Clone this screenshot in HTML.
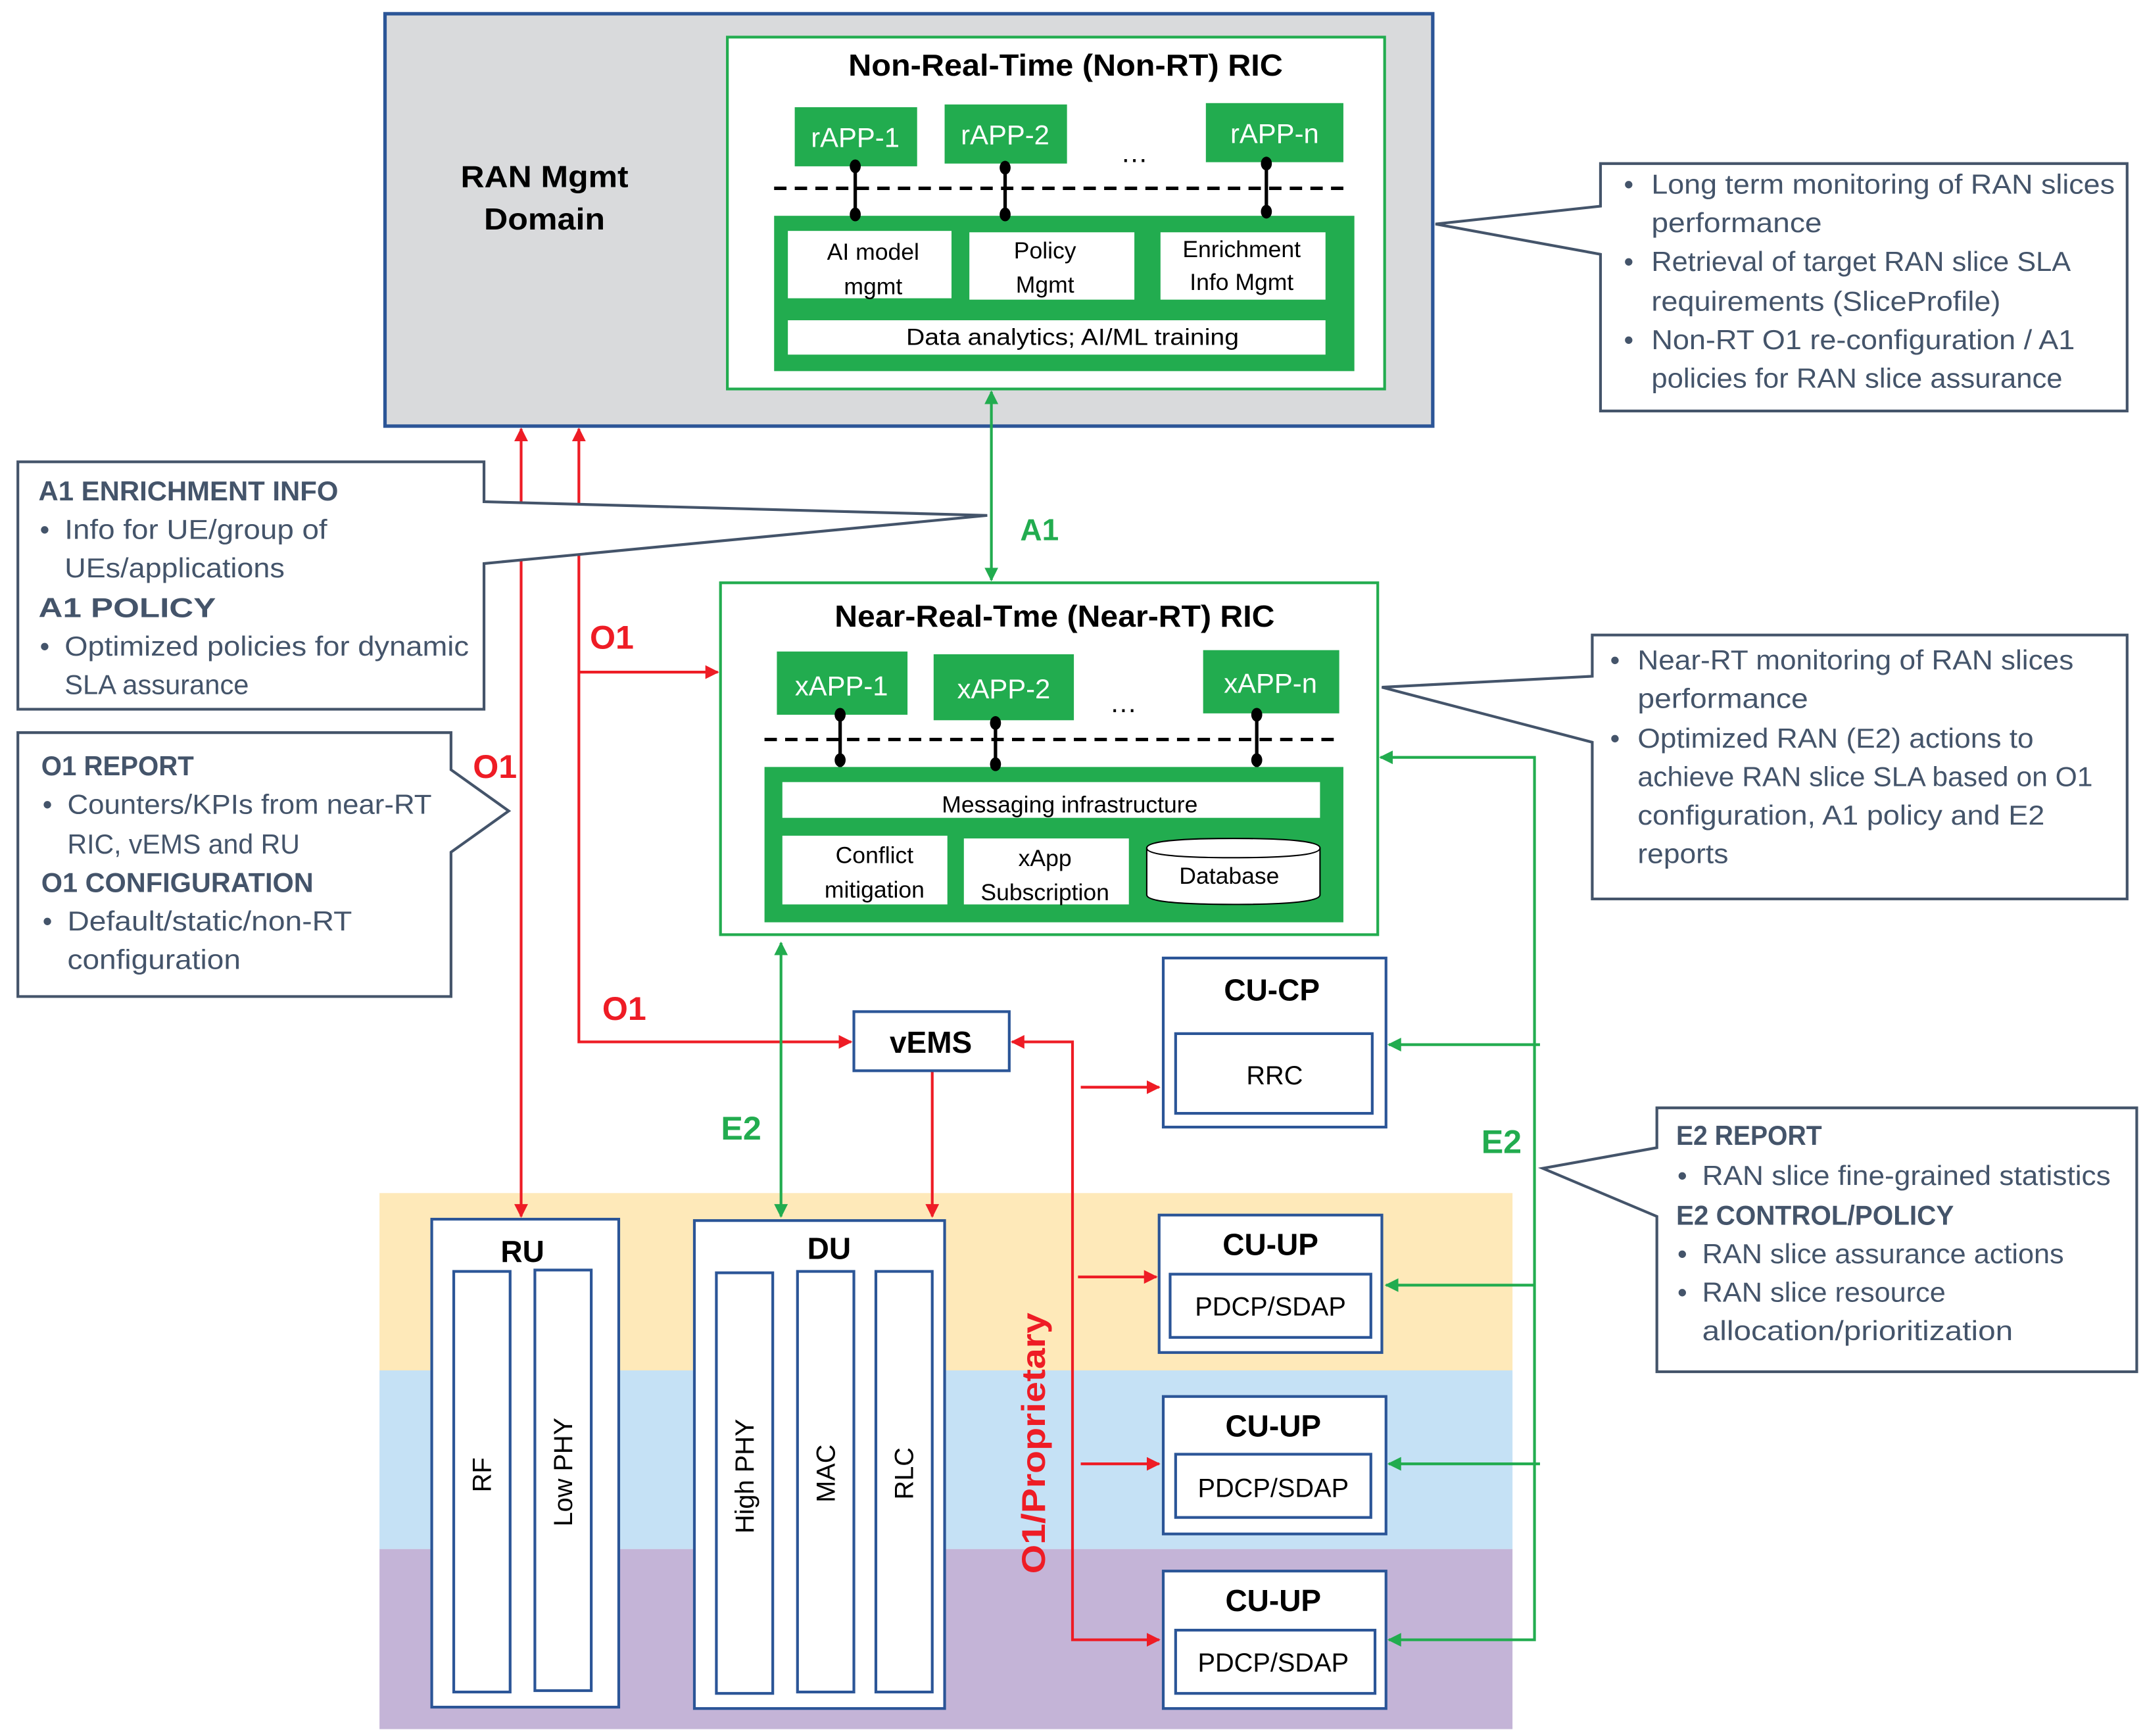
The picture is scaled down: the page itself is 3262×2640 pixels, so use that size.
<!DOCTYPE html>
<html><head><meta charset="utf-8"><style>html,body{margin:0;padding:0;background:#fff}svg{display:block}</style></head>
<body>
<svg width="3262" height="2640" viewBox="0 0 1560 1263" preserveAspectRatio="none" xmlns="http://www.w3.org/2000/svg" font-family="Liberation Sans, sans-serif">
<defs>
<marker id="ar" viewBox="0 0 10 10" refX="9" refY="5" markerWidth="5" markerHeight="5" orient="auto-start-reverse" markerUnits="strokeWidth"><path d="M0,0 L10,5 L0,10 z" fill="#ee1c25"/></marker>
<marker id="ag" viewBox="0 0 10 10" refX="9" refY="5" markerWidth="5" markerHeight="5" orient="auto-start-reverse" markerUnits="strokeWidth"><path d="M0,0 L10,5 L0,10 z" fill="#22ac4f"/></marker>
</defs>
<!-- bands -->
<rect x="276" y="868" width="824" height="129" fill="#fee9b9"/>
<rect x="276" y="997" width="824" height="130" fill="#c5e1f5"/>
<rect x="276" y="1127" width="824" height="131" fill="#c4b4d7"/>

<!-- RAN Mgmt -->
<rect x="280" y="10" width="762" height="300" fill="#d9dadc" stroke="#2b5597" stroke-width="2.5"/>
<text x="396" y="136" font-size="22" font-weight="bold" text-anchor="middle" textLength="122" lengthAdjust="spacingAndGlyphs">RAN Mgmt</text>
<text x="396" y="167" font-size="22" font-weight="bold" text-anchor="middle" textLength="88" lengthAdjust="spacingAndGlyphs">Domain</text>

<!-- Non-RT RIC -->
<rect x="529" y="27" width="478" height="256" fill="#fff" stroke="#22ac4f" stroke-width="2"/>
<text x="775" y="55" font-size="22" font-weight="bold" text-anchor="middle" textLength="316" lengthAdjust="spacingAndGlyphs">Non-Real-Time (Non-RT) RIC</text>
<g fill="#22ac4f">
<rect x="578" y="78" width="89" height="43"/><rect x="687" y="76" width="89" height="43"/><rect x="877" y="75" width="100" height="43"/>
<rect x="563" y="157" width="422" height="113"/>
</g>
<g fill="#fff" font-size="20" text-anchor="middle">
<text x="622" y="107">rAPP-1</text><text x="731" y="105">rAPP-2</text><text x="927" y="104">rAPP-n</text>
</g>
<text x="825" y="118" font-size="20" text-anchor="middle">…</text>
<line x1="563" y1="137" x2="983" y2="137" stroke="#000" stroke-width="2.5" stroke-dasharray="9,6"/>
<g stroke="#000" stroke-width="2.5"><line x1="622" y1="121" x2="622" y2="157"/><line x1="731" y1="119" x2="731" y2="157"/><line x1="921" y1="118" x2="921" y2="157"/></g>
<g fill="#000"><ellipse cx="622" cy="121" rx="4" ry="5"/><ellipse cx="622" cy="156" rx="4" ry="5"/><ellipse cx="731" cy="122" rx="4" ry="5"/><ellipse cx="731" cy="156" rx="4" ry="5"/><ellipse cx="921" cy="119" rx="4" ry="5"/><ellipse cx="921" cy="154" rx="4" ry="5"/></g>
<g fill="#fff"><rect x="573" y="168" width="119" height="49"/><rect x="705" y="169" width="120" height="49"/><rect x="844" y="169" width="120" height="49"/><rect x="573" y="233" width="391" height="25"/></g>
<g font-size="17" text-anchor="middle">
<text x="635" y="189">AI model</text><text x="635" y="214">mgmt</text>
<text x="760" y="188">Policy</text><text x="760" y="213">Mgmt</text>
<text x="903" y="187">Enrichment</text><text x="903" y="211">Info Mgmt</text>
<text x="780" y="251" textLength="242" lengthAdjust="spacingAndGlyphs">Data analytics; AI/ML training</text>
</g>

<!-- Near-RT RIC -->
<rect x="524" y="424" width="478" height="256" fill="#fff" stroke="#22ac4f" stroke-width="2"/>
<text x="767" y="456" font-size="22" font-weight="bold" text-anchor="middle" textLength="320" lengthAdjust="spacingAndGlyphs">Near-Real-Tme (Near-RT) RIC</text>
<g fill="#22ac4f"><rect x="565" y="474" width="95" height="46"/><rect x="679" y="476" width="102" height="48"/><rect x="875" y="473" width="99" height="46"/><rect x="556" y="558" width="421" height="113"/></g>
<g fill="#fff" font-size="20" text-anchor="middle"><text x="612" y="506">xAPP-1</text><text x="730" y="508">xAPP-2</text><text x="924" y="504">xAPP-n</text></g>
<text x="817" y="518" font-size="20" text-anchor="middle">…</text>
<line x1="556" y1="538" x2="975" y2="538" stroke="#000" stroke-width="2.5" stroke-dasharray="9,6"/>
<g stroke="#000" stroke-width="2.5"><line x1="611" y1="520" x2="611" y2="558"/><line x1="724" y1="524" x2="724" y2="558"/><line x1="914" y1="519" x2="914" y2="558"/></g>
<g fill="#000"><ellipse cx="611" cy="520" rx="4" ry="5"/><ellipse cx="611" cy="553" rx="4" ry="5"/><ellipse cx="724" cy="526" rx="4" ry="5"/><ellipse cx="724" cy="556" rx="4" ry="5"/><ellipse cx="914" cy="520" rx="4" ry="5"/><ellipse cx="914" cy="553" rx="4" ry="5"/></g>
<g fill="#fff"><rect x="569" y="569" width="391" height="26"/><rect x="569" y="608" width="120" height="50"/><rect x="701" y="610" width="120" height="48"/></g>
<path d="M834,617 Q834,610 897,610 Q960,610 960,617 L960,651 Q960,658 897,658 Q834,658 834,651 Z" fill="#fff" stroke="#000" stroke-width="1"/>
<path d="M834,617 Q834,624 897,624 Q960,624 960,617" fill="none" stroke="#000" stroke-width="1"/>
<g font-size="17" text-anchor="middle">
<text x="778" y="591">Messaging infrastructure</text>
<text x="636" y="628">Conflict</text><text x="636" y="653">mitigation</text>
<text x="760" y="630">xApp</text><text x="760" y="655">Subscription</text>
<text x="894" y="643">Database</text>
</g>

<!-- A1 -->
<line x1="721" y1="285" x2="721" y2="422" stroke="#22ac4f" stroke-width="2" marker-start="url(#ag)" marker-end="url(#ag)"/>
<text x="756" y="393" font-size="22" font-weight="bold" fill="#22ac4f" text-anchor="middle">A1</text>

<!-- Red O1 lines -->
<g stroke="#ee1c25" stroke-width="2" fill="none">
<line x1="379" y1="312" x2="379" y2="885" marker-start="url(#ar)" marker-end="url(#ar)"/>
<polyline points="421,312 421,758 619,758" marker-start="url(#ar)" marker-end="url(#ar)"/>
<line x1="421" y1="489" x2="522" y2="489" marker-end="url(#ar)"/>
<line x1="678" y1="779" x2="678" y2="885" marker-end="url(#ar)"/>
<polyline points="843,1193 780,1193 780,758 736,758" marker-start="url(#ar)" marker-end="url(#ar)"/>
<line x1="786" y1="791" x2="843" y2="791" marker-end="url(#ar)"/>
<line x1="784" y1="929" x2="841" y2="929" marker-end="url(#ar)"/>
<line x1="786" y1="1065" x2="843" y2="1065" marker-end="url(#ar)"/>
</g>
<g font-size="24" font-weight="bold" fill="#ee1c25" text-anchor="middle">
<text x="445" y="472">O1</text><text x="360" y="566">O1</text><text x="454" y="742">O1</text>
<text transform="translate(760,1050) rotate(-90)" text-anchor="middle" textLength="190" lengthAdjust="spacingAndGlyphs">O1/Proprietary</text>
</g>

<!-- Green E2 lines -->
<g stroke="#22ac4f" stroke-width="2" fill="none">
<line x1="568" y1="686" x2="568" y2="885" marker-start="url(#ag)" marker-end="url(#ag)"/>
<polyline points="1004,551 1116,551 1116,1193 1010,1193" marker-start="url(#ag)" marker-end="url(#ag)"/>
<line x1="1120" y1="760" x2="1010" y2="760" marker-end="url(#ag)"/>
<line x1="1116" y1="935" x2="1008" y2="935" marker-end="url(#ag)"/>
<line x1="1120" y1="1065" x2="1010" y2="1065" marker-end="url(#ag)"/>
</g>
<g font-size="24" font-weight="bold" fill="#22ac4f" text-anchor="middle"><text x="539" y="829">E2</text><text x="1092" y="839">E2</text></g>

<!-- vEMS -->
<rect x="621" y="736" width="113" height="43" fill="#fff" stroke="#2b5597" stroke-width="2"/>
<text x="677" y="766" font-size="22" font-weight="bold" text-anchor="middle">vEMS</text>

<!-- RU / DU -->
<g fill="#fff" stroke="#2b5597" stroke-width="2">
<rect x="314" y="887" width="136" height="355"/>
<rect x="330" y="925" width="41" height="306"/><rect x="389" y="924" width="41" height="306"/>
<rect x="505" y="888" width="182" height="355"/>
<rect x="521" y="926" width="41" height="306"/><rect x="580" y="925" width="41" height="306"/><rect x="637" y="925" width="41" height="306"/>
<rect x="846" y="697" width="162" height="123"/><rect x="855" y="752" width="143" height="58"/>
<rect x="843" y="884" width="162" height="100"/><rect x="851" y="927" width="146" height="46"/>
<rect x="846" y="1016" width="162" height="100"/><rect x="855" y="1058" width="142" height="46"/>
<rect x="846" y="1143" width="162" height="100"/><rect x="855" y="1186" width="145" height="46"/>
</g>
<g font-size="22" font-weight="bold" text-anchor="middle">
<text x="380" y="918">RU</text><text x="603" y="916">DU</text>
<text x="925" y="728">CU-CP</text><text x="924" y="913">CU-UP</text><text x="926" y="1045">CU-UP</text><text x="926" y="1172">CU-UP</text>
</g>
<g font-size="19" text-anchor="middle">
<text x="927" y="789">RRC</text><text x="924" y="957">PDCP/SDAP</text><text x="926" y="1089">PDCP/SDAP</text><text x="926" y="1216">PDCP/SDAP</text>
<text transform="translate(357,1073) rotate(-90)">RF</text>
<text transform="translate(416,1071) rotate(-90)">Low PHY</text>
<text transform="translate(548,1074) rotate(-90)">High PHY</text>
<text transform="translate(607,1072) rotate(-90)">MAC</text>
<text transform="translate(664,1072) rotate(-90)">RLC</text>
</g>

<!-- Callouts -->
<g fill="#fff" stroke="#44546a" stroke-width="2">
<path d="M13,336 L352,336 L352,365 L718,375 L352,410 L352,516 L13,516 Z"/>
<path d="M13,533 L328,533 L328,560 L370,590 L328,620 L328,725 L13,725 Z"/>
<path d="M1164,119 L1547,119 L1547,299 L1164,299 L1164,185 L1044,163 L1164,150 Z"/>
<path d="M1158,462 L1547,462 L1547,654 L1158,654 L1158,540 L1005,500 L1158,492 Z"/>
<path d="M1205,806 L1554,806 L1554,998 L1205,998 L1205,885 L1122,850 L1205,835 Z"/>
</g>
<g font-size="20" fill="#44546a" lengthAdjust="spacingAndGlyphs">
<text x="28" y="364" font-weight="bold" textLength="218" lengthAdjust="spacingAndGlyphs">A1 ENRICHMENT INFO</text>
<text x="29" y="392">•</text><text x="47" y="392" textLength="191" lengthAdjust="spacingAndGlyphs">Info for UE/group of</text>
<text x="47" y="420" textLength="160" lengthAdjust="spacingAndGlyphs">UEs/applications</text>
<text x="28" y="449" font-weight="bold" textLength="129" lengthAdjust="spacingAndGlyphs">A1 POLICY</text>
<text x="29" y="477">•</text><text x="47" y="477" textLength="294" lengthAdjust="spacingAndGlyphs">Optimized policies for dynamic</text>
<text x="47" y="505" textLength="134" lengthAdjust="spacingAndGlyphs">SLA assurance</text>

<text x="30" y="564" font-weight="bold" textLength="111" lengthAdjust="spacingAndGlyphs">O1 REPORT</text>
<text x="31" y="592">•</text><text x="49" y="592" textLength="265" lengthAdjust="spacingAndGlyphs">Counters/KPIs from near-RT</text>
<text x="49" y="621" textLength="169" lengthAdjust="spacingAndGlyphs">RIC, vEMS and RU</text>
<text x="30" y="649" font-weight="bold" textLength="198" lengthAdjust="spacingAndGlyphs">O1 CONFIGURATION</text>
<text x="31" y="677">•</text><text x="49" y="677" textLength="207" lengthAdjust="spacingAndGlyphs">Default/static/non-RT</text>
<text x="49" y="705" textLength="126" lengthAdjust="spacingAndGlyphs">configuration</text>

<text x="1181" y="141">•</text><text x="1201" y="141" textLength="337" lengthAdjust="spacingAndGlyphs">Long term monitoring of RAN slices</text>
<text x="1201" y="169" textLength="124" lengthAdjust="spacingAndGlyphs">performance</text>
<text x="1181" y="197">•</text><text x="1201" y="197" textLength="305" lengthAdjust="spacingAndGlyphs">Retrieval of target RAN slice SLA</text>
<text x="1201" y="226" textLength="254" lengthAdjust="spacingAndGlyphs">requirements (SliceProfile)</text>
<text x="1181" y="254">•</text><text x="1201" y="254" textLength="308" lengthAdjust="spacingAndGlyphs">Non-RT O1 re-configuration / A1</text>
<text x="1201" y="282" textLength="299" lengthAdjust="spacingAndGlyphs">policies for RAN slice assurance</text>

<text x="1171" y="487">•</text><text x="1191" y="487" textLength="317" lengthAdjust="spacingAndGlyphs">Near-RT monitoring of RAN slices</text>
<text x="1191" y="515" textLength="124" lengthAdjust="spacingAndGlyphs">performance</text>
<text x="1171" y="544">•</text><text x="1191" y="544" textLength="288" lengthAdjust="spacingAndGlyphs">Optimized RAN (E2) actions to</text>
<text x="1191" y="572" textLength="331" lengthAdjust="spacingAndGlyphs">achieve RAN slice SLA based on O1</text>
<text x="1191" y="600" textLength="296" lengthAdjust="spacingAndGlyphs">configuration, A1 policy and E2</text>
<text x="1191" y="628" textLength="66" lengthAdjust="spacingAndGlyphs">reports</text>

<text x="1219" y="833" font-weight="bold" textLength="106" lengthAdjust="spacingAndGlyphs">E2 REPORT</text>
<text x="1220" y="862">•</text><text x="1238" y="862" textLength="297" lengthAdjust="spacingAndGlyphs">RAN slice fine-grained statistics</text>
<text x="1219" y="891" font-weight="bold" textLength="202" lengthAdjust="spacingAndGlyphs">E2 CONTROL/POLICY</text>
<text x="1220" y="919">•</text><text x="1238" y="919" textLength="263" lengthAdjust="spacingAndGlyphs">RAN slice assurance actions</text>
<text x="1220" y="947">•</text><text x="1238" y="947" textLength="177" lengthAdjust="spacingAndGlyphs">RAN slice resource</text>
<text x="1238" y="975" textLength="226" lengthAdjust="spacingAndGlyphs">allocation/prioritization</text>
</g>
</svg>
</body></html>
